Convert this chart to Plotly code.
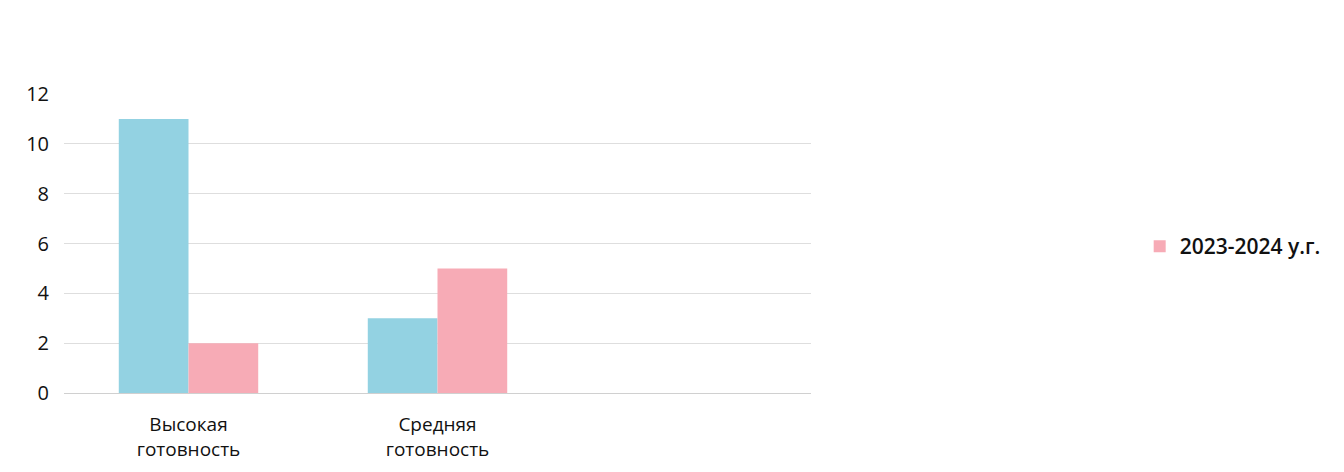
import plotly.graph_objects as go

categories = ["Высокая<br>готовность", "Средняя<br>готовность"]
series_prev = [11, 3]
series_curr = [2, 5]
name_prev = "2022-2023 у.г."
name_curr = "2023-2024 у.г."
y_ticks = [0, 2, 4, 6, 8, 10, 12]

fig = go.Figure()
fig.add_trace(go.Bar(x=categories, y=series_prev, name=name_prev,
                     marker=dict(color="#93d2e2", line=dict(width=0)), showlegend=False))
fig.add_trace(go.Bar(x=categories, y=series_curr, name=name_curr,
                     marker=dict(color="#f7abb6", line=dict(width=0))))

fig.update_layout(
    width=1344, height=472,
    margin=dict(l=56, r=541, t=86, b=87),
    paper_bgcolor="white", plot_bgcolor="white",
    barmode="group", bargap=0.44, bargroupgap=0,
    font=dict(family="Open Sans", color="#111111", size=18),
    legend=dict(x=1.44, y=0.49, xanchor="left", yanchor="middle",
                font=dict(size=21, color="#111111", weight=600), itemwidth=30),
    xaxis=dict(type="category", range=[-0.5, 2.5], showgrid=False,
               showline=False, ticks="", tickfont=dict(size=19), zeroline=False,
               ticklabelstandoff=18),
    yaxis=dict(range=[0, 12], tickvals=y_ticks, showgrid=True, gridcolor="#dedede",
               gridwidth=1, zeroline=True, zerolinecolor="#d0d0d0", zerolinewidth=1,
               showline=False, ticks="", tickfont=dict(size=20), ticklabelstandoff=14),
)

fig.write_html("out.html")
